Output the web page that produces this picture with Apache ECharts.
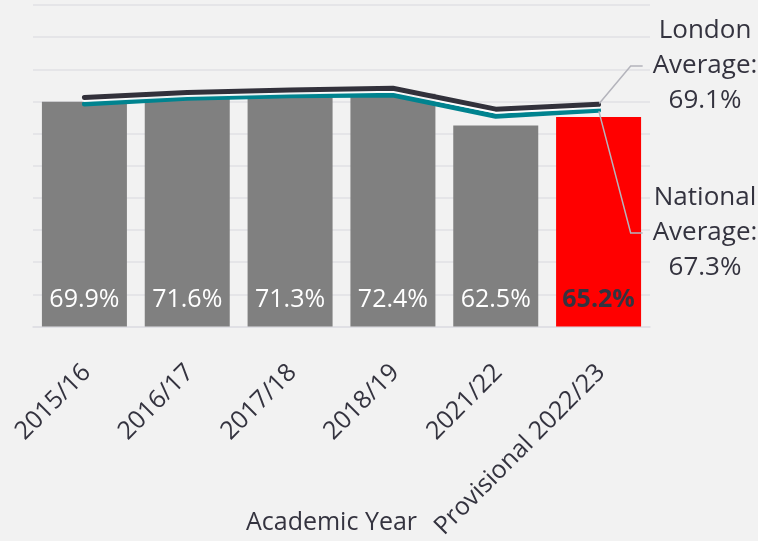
<!DOCTYPE html>
<html>
<head>
<meta charset="utf-8">
<script src="https://cdn.jsdelivr.net/npm/echarts@6/dist/echarts.min.js"></script>
<style>
html,body{margin:0;padding:0;background:#f2f2f2;}
#chart{width:758px;height:541px;}
</style>
</head>
<body>
<div id="chart"></div>
<script>
const categories = ['2015/16', '2016/17', '2017/18', '2018/19', '2021/22', 'Provisional 2022/23'];
const schoolValues = [69.9, 71.6, 71.3, 72.4, 62.5, 65.2];
const londonAverage = [71.2, 72.8, 73.6, 74.1, 67.6, 69.1];
const nationalAverage = [69.2, 71.0, 71.8, 72.0, 65.4, 67.3];
const lineNames = ['London', 'National'];
const yMin = 0, yMax = 100, yInterval = 10;
const xAxisName = 'Academic Year';

const FONT = '"Segoe UI", "Open Sans", sans-serif';
const TEXT = '#34333f';

const last = categories.length - 1;

const barData = schoolValues.map((v, i) => i === last ? {
  value: v,
  itemStyle: { color: '#ff0000' },
  label: { color: TEXT, fontWeight: 'bold' }
} : v);

function lineData(values, name) {
  return values.map((v, i) => i === last ? {
    value: v,
    label: {
      show: true,
      formatter: name + '\nAverage:\n' + v.toFixed(1) + '%'
    }
  } : v);
}

const chart = echarts.init(document.getElementById('chart'), null, { renderer: 'canvas' });
chart.setOption({
  backgroundColor: '#f2f2f2',
  animation: false,
  grid: { left: 33, right: 108, top: 5, bottom: 214.5, outerBoundsMode: 'none', containLabel: false },
  xAxis: {
    type: 'category',
    data: categories,
    name: xAxisName,
    nameLocation: 'middle',
    nameGap: 184,
    nameMoveOverlap: false,
    nameTextStyle: { fontFamily: FONT, fontSize: 25, color: TEXT, padding: [0, 20, 0, 0] },
    axisLine: { show: true, lineStyle: { color: '#dedee3', width: 1.5 } },
    axisTick: { show: false },
    axisLabel: {
      rotate: 45,
      interval: 0,
      margin: 27,
      verticalAlign: 'top',
      padding: [0, 9, 0, 0],
      fontFamily: FONT,
      fontSize: 25,
      color: TEXT
    }
  },
  yAxis: {
    type: 'value',
    min: yMin,
    max: yMax,
    interval: yInterval,
    axisLabel: { show: false },
    axisLine: { show: false },
    axisTick: { show: false },
    splitLine: { lineStyle: { color: '#e0e0e5', width: 1.5 } }
  },
  series: [
    {
      type: 'bar',
      data: barData,
      barWidth: 85,
      z: 2,
      itemStyle: { color: '#808080' },
      label: {
        show: true,
        position: 'insideBottom',
        distance: 14,
        formatter: p => p.value.toFixed(1) + '%',
        fontFamily: FONT,
        fontSize: 25,
        color: '#ffffff'
      }
    },
    {
      type: 'line',
      name: lineNames[1],
      data: lineData(nationalAverage, lineNames[1]),
      z: 3,
      symbol: 'circle',
      symbolSize: 2,
      showSymbol: true,
      itemStyle: { color: '#00838f', borderWidth: 0 },
      lineStyle: { color: '#00838f', width: 5, cap: 'round', join: 'round' },
      label: {
        show: false,
        fontFamily: FONT,
        fontSize: 26,
        lineHeight: 35,
        color: TEXT,
        align: 'center',
        padding: [0, 44, 0, 10]
      },
      labelLayout: { x: 722, y: 233, align: 'center', verticalAlign: 'middle' },
      labelLine: { show: true, length2: 12, lineStyle: { color: '#b4b4bc', width: 1.5 } }
    },
    {
      type: 'line',
      name: lineNames[0],
      data: lineData(londonAverage, lineNames[0]),
      z: 4,
      symbol: 'circle',
      symbolSize: 2,
      showSymbol: true,
      itemStyle: { color: '#32313b', borderWidth: 0 },
      lineStyle: {
        color: '#32313b', width: 5, cap: 'round', join: 'round',
        shadowColor: 'rgba(255,255,255,0.9)', shadowOffsetY: 2, shadowBlur: 0
      },
      label: {
        show: false,
        fontFamily: FONT,
        fontSize: 26,
        lineHeight: 35,
        color: TEXT,
        align: 'center',
        padding: [0, 0, 0, 10]
      },
      labelLayout: { x: 700, y: 66, align: 'center', verticalAlign: 'middle' },
      labelLine: { show: true, length2: 12, lineStyle: { color: '#b4b4bc', width: 1.5 } }
    }
  ]
});
</script>
</body>
</html>
